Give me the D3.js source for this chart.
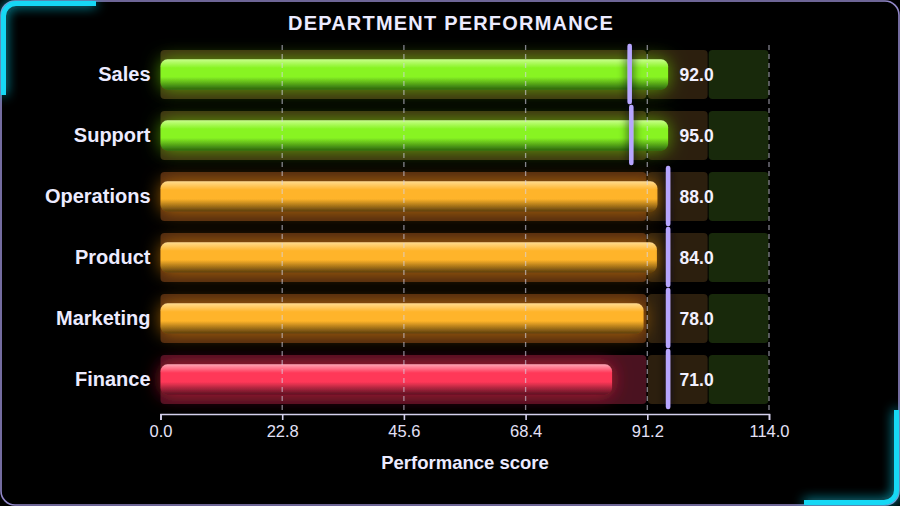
<!DOCTYPE html>
<html>
<head>
<meta charset="utf-8">
<script src="https://cdn.jsdelivr.net/npm/d3@7"></script>
<style>
  html, body { margin: 0; padding: 0; background: #000; }
  svg { display: block; }
  text { font-family: "Liberation Sans", Arial, sans-serif; }
</style>
</head>
<body>
<svg id="chart" width="900" height="506"></svg>
<script>
// ---- data ----
const departments = ["Sales", "Support", "Operations", "Product", "Marketing", "Finance"];
const scoreLabels = [92.0, 95.0, 88.0, 84.0, 78.0, 71.0];
const barValues   = [95.1, 95.1, 93.1, 93.0, 90.5, 84.6];
const targets     = [87.9, 88.2, 95.1, 95.1, 95.1, 95.1];
const statuses    = ["good", "good", "warn", "warn", "warn", "bad"];
const rangeBreaks = [0, 91.2, 102.6, 114];
const tickValues  = [0, 22.8, 45.6, 68.4, 91.2, 114];

const rows = departments.map((d, i) => ({
  name: d, label: scoreLabels[i], bar: barValues[i], target: targets[i], status: statuses[i]
}));

const statusColors = {
  good: { top: "#c8ff8a", mid: "#88f424", bot: "#2c640c", glow: "#7cf000", band: "#3a2c12" },
  warn: { top: "#ffdb8e", mid: "#ffb42a", bot: "#5a3c0a", glow: "#ff9a10", band: "#4a2610" },
  bad:  { top: "#ffa4b4", mid: "#ff3858", bot: "#5a1222", glow: "#ff2040", band: "#4a1220" }
};

const svg = d3.select("#chart");
const W = 900, H = 506;

// ---- defs ----
const defs = svg.append("defs");
Object.entries(statusColors).forEach(([k, c]) => {
  const g = defs.append("linearGradient").attr("id", "grad-" + k)
    .attr("x1", 0).attr("y1", 0).attr("x2", 0).attr("y2", 1);
  g.append("stop").attr("offset", "0%").attr("stop-color", c.top);
  g.append("stop").attr("offset", "28%").attr("stop-color", c.mid);
  g.append("stop").attr("offset", "58%").attr("stop-color", c.mid);
  g.append("stop").attr("offset", "100%").attr("stop-color", c.bot);

  const f = defs.append("filter").attr("id", "glow-" + k)
    .attr("x", "-20%").attr("y", "-100%").attr("width", "140%").attr("height", "300%");
  f.append("feGaussianBlur").attr("in", "SourceAlpha").attr("stdDeviation", 9).attr("result", "b");
  f.append("feFlood").attr("flood-color", c.glow).attr("flood-opacity", 0.6);
  f.append("feComposite").attr("in2", "b").attr("operator", "in").attr("result", "g");
  const m = f.append("feMerge");
  m.append("feMergeNode").attr("in", "g");
  m.append("feMergeNode").attr("in", "SourceGraphic");
});
{
  const f = defs.append("filter").attr("id", "markerShadow")
    .attr("filterUnits", "userSpaceOnUse")
    .attr("x", 0).attr("y", 0).attr("width", 900).attr("height", 506);
  f.append("feGaussianBlur").attr("in", "SourceAlpha").attr("stdDeviation", 5).attr("result", "b");
  f.append("feFlood").attr("flood-color", "#05051a").attr("flood-opacity", 0.95);
  f.append("feComposite").attr("in2", "b").attr("operator", "in").attr("result", "g");
  const m = f.append("feMerge");
  m.append("feMergeNode").attr("in", "g");
  m.append("feMergeNode").attr("in", "SourceGraphic");
}
{
  const f = defs.append("filter").attr("id", "cyanGlow")
    .attr("x", "-50%").attr("y", "-50%").attr("width", "200%").attr("height", "200%");
  f.append("feGaussianBlur").attr("in", "SourceGraphic").attr("stdDeviation", 6).attr("result", "b");
  const m = f.append("feMerge");
  m.append("feMergeNode").attr("in", "b");
  m.append("feMergeNode").attr("in", "SourceGraphic");
}

// ---- frame ----
svg.append("rect").attr("x", 0).attr("y", 0).attr("width", W).attr("height", H).attr("fill", "#000");
svg.append("rect").attr("x", 1).attr("y", 1).attr("width", W - 2).attr("height", H - 2)
  .attr("rx", 14).attr("fill", "#000").attr("stroke", "#9187c8").attr("stroke-width", 1.6);

const corners = svg.append("g").attr("filter", "url(#cyanGlow)")
  .attr("fill", "none").attr("stroke", "#14d8f5").attr("stroke-width", 5);
corners.append("path").attr("d", "M96,3.5 L16,3.5 A12.5,12.5 0 0 0 3.5,16 L3.5,95");
corners.append("path").attr("d", "M896.5,410 L896.5,490 A12.5,12.5 0 0 1 884,502.5 L804,502.5");

// ---- scales ----
const x = d3.scaleLinear().domain([0, 114]).range([160.5, 769]);
const y = d3.scaleBand().domain(departments).range([44, 410]).paddingInner(0.2).paddingOuter(0.1);
const bw = y.bandwidth();
const barH = bw * 0.62;

// ---- title ----
svg.append("text").attr("x", 451).attr("y", 30).attr("text-anchor", "middle")
  .attr("font-size", 20).attr("font-weight", "bold").attr("letter-spacing", 1.2)
  .attr("fill", "#ecebff").text("DEPARTMENT PERFORMANCE");

// ---- range bands ----
const bandG = svg.append("g");
rows.forEach(r => {
  const yy = y(r.name);
  const c = statusColors[r.status];
  const fills = [c.band, "#2c1f0e", "#18290b"];
  for (let j = 0; j < 3; j++) {
    const x0 = x(rangeBreaks[j]), x1 = x(rangeBreaks[j + 1]);
    bandG.append("rect")
      .attr("x", x0 + (j === 0 ? 0 : 0.5)).attr("y", yy)
      .attr("width", x1 - x0 - 1).attr("height", bw)
      .attr("rx", 4).attr("fill", fills[j]);
  }
});

// ---- bars ----
const barG = svg.append("g");
barG.selectAll("rect").data(rows).join("rect")
  .attr("x", x(0))
  .attr("y", d => y(d.name) + (bw - barH) / 2)
  .attr("width", d => x(d.bar) - x(0))
  .attr("height", barH)
  .attr("rx", 7)
  .attr("fill", d => `url(#grad-${d.status})`)
  .attr("filter", d => `url(#glow-${d.status})`);

// ---- grid ----
svg.append("g").selectAll("line").data(tickValues.filter(t => t > 0)).join("line")
  .attr("x1", d => x(d)).attr("x2", d => x(d))
  .attr("y1", 45).attr("y2", 414)
  .attr("stroke", "#d6d3e6").attr("stroke-opacity", 0.6)
  .attr("stroke-width", 1.3).attr("stroke-dasharray", "5,4");

// ---- target markers ----
svg.append("g").attr("filter", "url(#markerShadow)")
  .selectAll("line").data(rows).join("line")
  .attr("x1", d => x(d.target)).attr("x2", d => x(d.target))
  .attr("y1", d => y(d.name) - 4).attr("y2", d => y(d.name) + bw + 3)
  .attr("stroke", "#b7a6ff").attr("stroke-width", 4.5).attr("stroke-linecap", "round");

// ---- value labels ----
svg.append("g").selectAll("text").data(rows).join("text")
  .attr("x", d => x(Math.max(d.bar, d.target)) + 11.5)
  .attr("y", d => y(d.name) + bw / 2)
  .attr("dy", "0.36em")
  .attr("font-size", 17.5).attr("font-weight", "bold").attr("fill", "#f2f0ff")
  .text(d => d3.format(".1f")(d.label));

// ---- axes ----
const xAxis = svg.append("g").attr("transform", "translate(0,414)")
  .call(d3.axisBottom(x).tickValues(tickValues).tickFormat(d3.format(".1f")).tickSize(6).tickSizeOuter(6).tickPadding(5));
xAxis.select(".domain").attr("stroke", "#d4d0ec").attr("stroke-width", 1.6);
xAxis.selectAll(".tick line").attr("stroke", "#d4d0ec").attr("stroke-width", 1.6);
xAxis.selectAll(".tick text").attr("fill", "#e4e1f7").attr("font-size", 16.5)
  .attr("font-family", "'Liberation Sans', Arial, sans-serif");

const yAxis = svg.append("g").attr("transform", `translate(${x(0)},0)`)
  .call(d3.axisLeft(y).tickSize(0).tickPadding(10));
yAxis.select(".domain").remove();
yAxis.selectAll(".tick text").attr("fill", "#ecebff").attr("font-size", 20)
  .attr("font-weight", "bold").attr("font-family", "'Liberation Sans', Arial, sans-serif");

svg.append("text").attr("x", 465).attr("y", 469).attr("text-anchor", "middle")
  .attr("font-size", 18.5).attr("font-weight", "bold").attr("fill", "#ecebff")
  .text("Performance score");
</script>
</body>
</html>
